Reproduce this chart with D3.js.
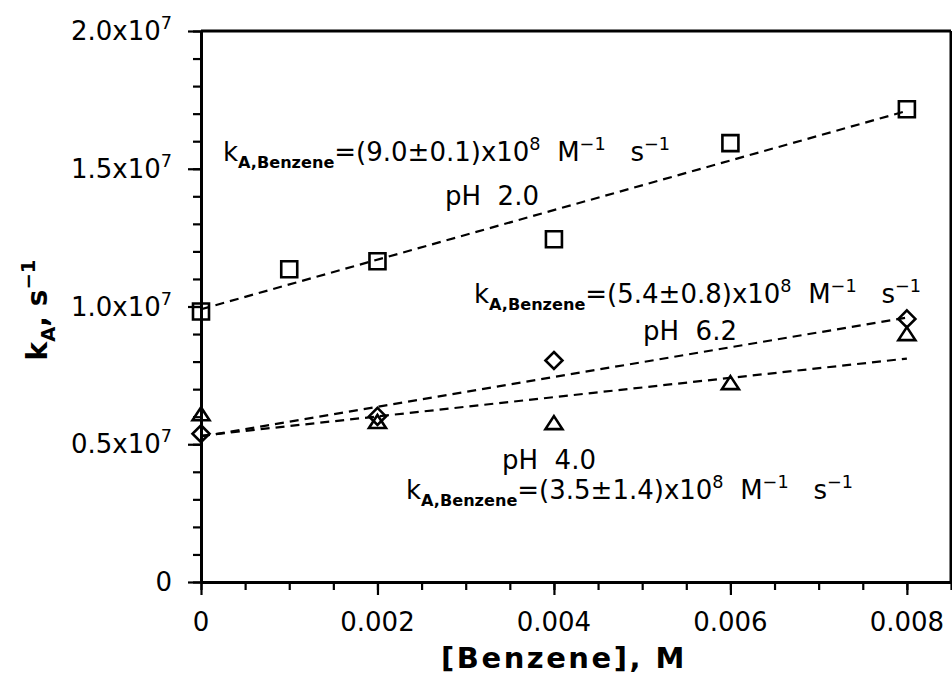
<!DOCTYPE html>
<html>
<head>
<meta charset="utf-8">
<script src="https://cdn.jsdelivr.net/npm/d3@7"></script>
<style>
  body { margin: 0; background: #fff; }
  text { font-family: "DejaVu Sans", "Liberation Sans", Arial, sans-serif; fill: #000; white-space: pre; }
</style>
</head>
<body>
<svg id="chart" width="952" height="698"></svg>
<script>
// data
const concPH2 = [0, 0.001, 0.002, 0.004, 0.006, 0.008];
const kPH2 = [0.982e7, 1.135e7, 1.164e7, 1.244e7, 1.593e7, 1.716e7];
const concPH62 = [0, 0.002, 0.004, 0.008];
const kPH62 = [0.538e7, 0.601e7, 0.804e7, 0.955e7];
const concPH4 = [0, 0.002, 0.004, 0.006, 0.008];
const kPH4 = [0.607e7, 0.579e7, 0.575e7, 0.72e7, 0.898e7];

// linear fits (slope, intercept) for pH 2.0, 6.2, 4.0
const fitSlope = [9.0e8, 5.4e8, 3.5e8];
const fitIntercept = [0.99e7, 0.528e7, 0.531e7];
const rateText = ["9.0\u00b10.1", "5.4\u00b10.8", "3.5\u00b11.4"];
const phText = ["2.0", "6.2", "4.0"];

const xTicks = [0, 0.002, 0.004, 0.006, 0.008];
const xTickLabels = ["0", "0.002", "0.004", "0.006", "0.008"];
const yTicks = [0, 0.5e7, 1.0e7, 1.5e7, 2.0e7];
const yTickLabels = ["0", "0.5", "1.0", "1.5", "2.0"];

// layout
const svg = d3.select('#chart');
const x = d3.scaleLinear().domain([0, 0.0085]).range([201, 951]);
const y = d3.scaleLinear().domain([0, 2.0e7]).range([582, 31]);

function richText(g, px, py, parts, size, anchor) {
  const t = g.append('text')
    .attr('x', px).attr('y', py)
    .attr('font-size', size)
    .attr('text-anchor', anchor || 'start');
  let shift = 0;
  parts.forEach(p => {
    const target = p.sub ? 0.28 * size : p.sup ? -0.42 * size : 0;
    t.append('tspan')
      .attr('dy', target - shift)
      .attr('font-size', (p.sub || p.sup) ? size * (p.small || 0.62) : size)
      .attr('font-weight', p.bold ? 'bold' : null)
      .text(p.t);
    shift = target;
  });
  return t;
}

// minor ticks
svg.append('g')
  .attr('transform', 'translate(201,0)')
  .call(d3.axisLeft(y).tickValues(d3.range(0, 2.01e7, 0.1e7)).tickSize(8).tickFormat(''))
  .call(g => g.select('.domain').remove())
  .call(g => g.selectAll('.tick line').attr('stroke-width', 2.2));
svg.append('g')
  .attr('transform', 'translate(0,582)')
  .call(d3.axisBottom(x).tickValues(d3.range(0, 0.00851, 0.0005)).tickSize(8).tickFormat(''))
  .call(g => g.select('.domain').remove())
  .call(g => g.selectAll('.tick line').attr('stroke-width', 2.2));

// major ticks + axis lines
svg.append('g')
  .attr('transform', 'translate(201,0)')
  .call(d3.axisLeft(y).tickValues(yTicks).tickSize(13).tickSizeOuter(0).tickFormat(''))
  .call(g => g.select('.domain').attr('stroke-width', 3))
  .call(g => g.selectAll('.tick line').attr('stroke-width', 2.2));
svg.append('g')
  .attr('transform', 'translate(0,582)')
  .call(d3.axisBottom(x).tickValues(xTicks).tickSize(13).tickSizeOuter(0).tickFormat(''))
  .call(g => g.select('.domain').attr('stroke-width', 3))
  .call(g => g.selectAll('.tick line').attr('stroke-width', 2.2));

// top and right frame
svg.append('line').attr('x1', x(0)).attr('x2', x(0.0085)).attr('y1', y(2e7)).attr('y2', y(2e7))
  .attr('stroke', '#000').attr('stroke-width', 3);
svg.append('line').attr('x1', x(0.0085)).attr('x2', x(0.0085)).attr('y1', y(2e7)).attr('y2', y(0))
  .attr('stroke', '#000').attr('stroke-width', 3);

// tick labels
const tickG = svg.append('g');
yTicks.forEach((v, i) => {
  const parts = v === 0 ? [{t: '0'}] : [{t: yTickLabels[i] + 'x10'}, {sup: true, t: '7', small: 0.68}];
  richText(tickG, 172, y(v) + 9, parts, 26, 'end');
});
xTicks.forEach((v, i) => {
  richText(tickG, x(v), 631, [{t: xTickLabels[i]}], 26, 'middle');
});

// axis titles
richText(svg, 564, 668, [{t: '[Benzene], M', bold: true}], 29, 'middle')
  .attr('letter-spacing', 2.5);
richText(svg, 0, 0, [{t: 'k', bold: true}, {sub: true, bold: true, t: 'A', small: 0.7}, {t: ', s', bold: true}, {sup: true, bold: true, t: '\u22121', small: 0.7}], 28, 'middle')
  .attr('transform', 'translate(47,310) rotate(-90)');

// fitted lines
const fitG = svg.append('g');
fitSlope.forEach((s, i) => {
  fitG.append('path')
    .datum([0, 0.008])
    .attr('fill', 'none')
    .attr('stroke', '#000')
    .attr('stroke-width', 2.2)
    .attr('stroke-dasharray', '9,6')
    .attr('d', d3.line().x(d => x(d)).y(d => y(fitIntercept[i] + s * d)));
});

// markers
const diamond = {
  draw(ctx) {
    ctx.moveTo(0, -8.5); ctx.lineTo(8.5, 0); ctx.lineTo(0, 8.5); ctx.lineTo(-8.5, 0); ctx.closePath();
  }
};
const triangle = {
  draw(ctx) {
    ctx.moveTo(0, -7.5); ctx.lineTo(8.5, 5.5); ctx.lineTo(-8.5, 5.5); ctx.closePath();
  }
};
function drawPoints(xs, ys, type, size) {
  svg.append('g').selectAll('path')
    .data(xs)
    .join('path')
    .attr('transform', (d, i) => `translate(${x(d)},${y(ys[i])})`)
    .attr('d', d3.symbol().type(type).size(size))
    .attr('fill', 'none')
    .attr('stroke', '#000')
    .attr('stroke-width', 2.6);
}
drawPoints(concPH2, kPH2, d3.symbolSquare, 256);
drawPoints(concPH4, kPH4, triangle, 1);
drawPoints(concPH62, kPH62, diamond, 1);

// annotations
const noteG = svg.append('g');
const notePos = [
  {rate: [223, 161], ph: [445, 205]},
  {rate: [474, 303], ph: [643, 340]},
  {rate: [406, 499], ph: [502, 469]}
];
rateText.forEach((r, i) => {
  richText(noteG, notePos[i].rate[0], notePos[i].rate[1], [
    {t: 'k'},
    {sub: true, bold: true, t: 'A,Benzene', small: 0.62},
    {t: '=(' + r + ')x10'},
    {sup: true, t: '8', small: 0.68},
    {t: '  M'},
    {sup: true, t: '\u22121', small: 0.68},
    {t: '   s'},
    {sup: true, t: '\u22121', small: 0.68}
  ], 26);
  richText(noteG, notePos[i].ph[0], notePos[i].ph[1], [{t: 'pH  ' + phText[i]}], 26);
});
</script>
</body>
</html>
